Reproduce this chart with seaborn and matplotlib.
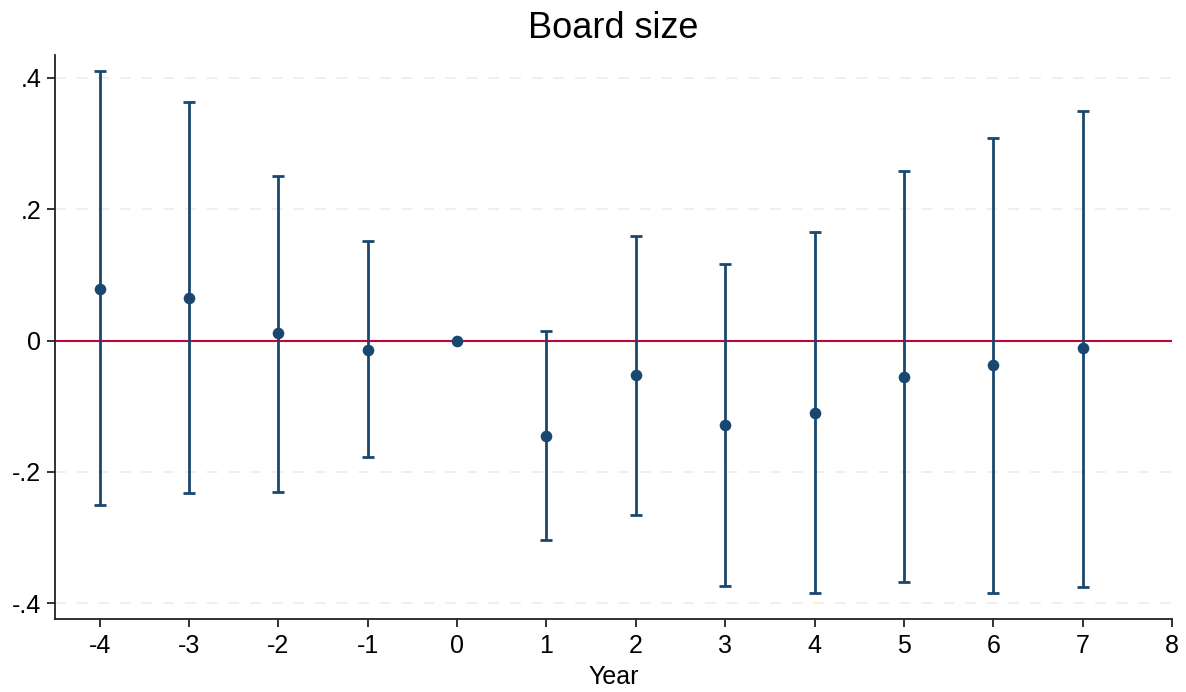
import matplotlib
matplotlib.use("Agg")
import matplotlib.pyplot as plt
import seaborn as sns
import pandas as pd

sns.set_style("white")
plt.rcParams["font.family"] = ["Liberation Sans", "DejaVu Sans"]
plt.rcParams["text.color"] = "black"
plt.rcParams["xtick.color"] = "#222222"
plt.rcParams["ytick.color"] = "#222222"
plt.rcParams["xtick.labelcolor"] = "black"
plt.rcParams["ytick.labelcolor"] = "black"
plt.rcParams["axes.labelcolor"] = "black"

years = [-4, -3, -2, -1, 0, 1, 2, 3, 4, 5, 6, 7]
coef = [0.079, 0.065, 0.011, -0.014, 0.0, -0.145, -0.052, -0.128, -0.110, -0.055, -0.037, -0.012]
ci_low = [-0.250, -0.232, -0.230, -0.177, 0.0, -0.303, -0.265, -0.373, -0.385, -0.367, -0.384, -0.375]
ci_high = [0.410, 0.364, 0.250, 0.151, 0.0, 0.015, 0.160, 0.116, 0.165, 0.259, 0.309, 0.350]

df = pd.DataFrame({"year": years, "coef": coef, "lo": ci_low, "hi": ci_high})
NAVY = "#1a476f"
RED = "#c10534"

fig = plt.figure(figsize=(11.86, 6.92), dpi=100)
ax = fig.add_axes([0.0464, 0.1055, 0.9418, 0.815])

for yv in [-0.4, -0.2, 0.2, 0.4]:
    ax.axhline(yv, color="#eeeeee", lw=1.3, ls=(0, (6, 6)), zorder=0)
ax.axhline(0, color=RED, lw=1.5, zorder=1)

ci = df[df["year"] != 0]
ax.errorbar(ci["year"], ci["coef"],
            yerr=[ci["coef"] - ci["lo"], ci["hi"] - ci["coef"]],
            fmt="none", ecolor=NAVY, elinewidth=2, capsize=4, capthick=2, zorder=2)
sns.scatterplot(data=df, x="year", y="coef", color=NAVY, s=70, edgecolor=NAVY,
                linewidth=0, zorder=3, ax=ax)

ax.set_xlim(-4.5, 8)
ax.set_ylim(-0.424, 0.435)
ax.set_xticks(range(-4, 9))
ax.set_xticklabels([str(v) for v in range(-4, 9)])
ax.set_yticks([-0.4, -0.2, 0, 0.2, 0.4])
ax.set_yticklabels(["-.4", "-.2", "0", ".2", ".4"])
ax.tick_params(axis="both", bottom=True, left=True, labelsize=18, length=6, width=1.3,
               direction="out")
ax.tick_params(axis="x", pad=5)
ax.tick_params(axis="y", pad=4)

for side in ["top", "right"]:
    ax.spines[side].set_visible(False)
for side in ["left", "bottom"]:
    ax.spines[side].set_color("#222222")
    ax.spines[side].set_linewidth(1.3)

ax.set_title("Board size", fontsize=26, pad=12)
ax.set_xlabel("Year", fontsize=18, labelpad=5)
ax.set_ylabel("")

fig.savefig("out.png", dpi=100, facecolor="white")
